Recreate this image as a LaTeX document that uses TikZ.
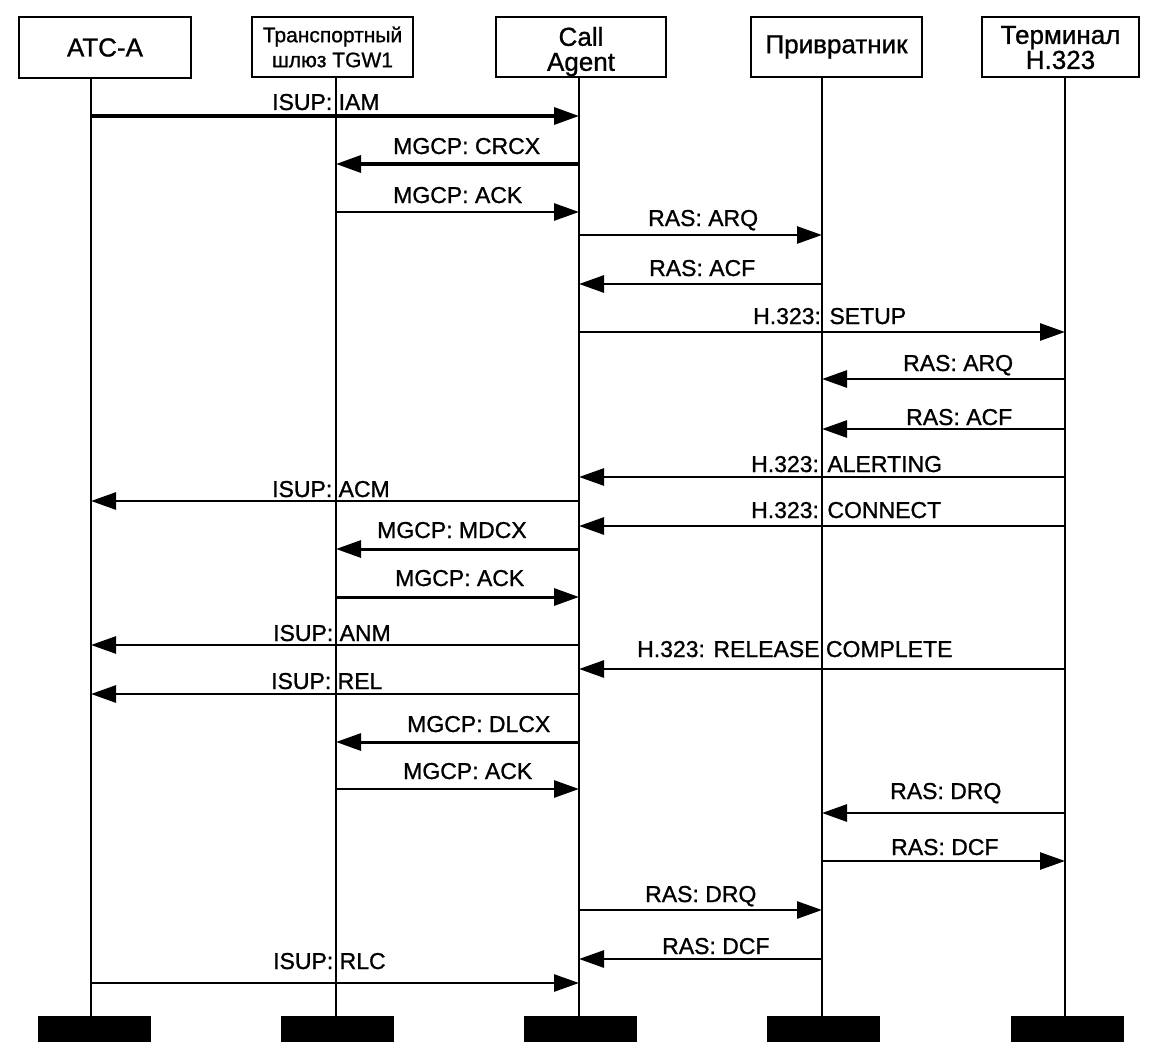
\documentclass[tikz,border=0pt]{standalone}
\usepackage{fontspec}
\setmainfont{Liberation Sans}
\newfontfamily\heavyfont{Liberation Sans}[FakeBold=1]
\usetikzlibrary{arrows.meta}
\begin{document}
\begin{tikzpicture}[x=1pt,y=-1pt,
  box/.style={draw, line width=1.9pt, inner sep=0pt, align=center,
              font=\heavyfont\fontsize{26}{25}\selectfont},
  smallbox/.style={box, font=\heavyfont\fontsize{21}{25}\selectfont},
  bar/.style={fill=black, inner sep=0pt, minimum width=113pt, minimum height=26pt},
  life/.style={line width=1.8pt},
  msg/.style={line width=2.8pt, -{Triangle[length=25pt,width=17pt]}},
  lbl/.style={anchor=base west, inner sep=0pt, font=\heavyfont\fontsize{23}{23}\selectfont}]
\useasboundingbox (0,0) rectangle (1163,1057);

% header boxes
\node[box, minimum width=172pt, minimum height=61pt] (A) at (105,47.5) {АТС-А};
\node[smallbox, minimum width=161pt, minimum height=60pt] (T) at (332.5,47) {Транспортный\\шлюз TGW1};
\node[box, minimum width=170pt, minimum height=60pt] (C) at (581,47) {\rule{0pt}{28pt}Call\\Agent};
\node[box, minimum width=171pt, minimum height=60pt] (G) at (836.5,47) {Привратник};
\node[box, minimum width=157pt, minimum height=60pt] (H) at (1060.5,47) {\rule{0pt}{19pt}Терминал\\H.323};

% bottom bars
\node[bar] (bA) at (94.5,1029) {};
\node[bar] (bT) at (337,1029) {};
\node[bar] (bC) at (580,1029) {};
\node[bar] (bG) at (823.5,1029) {};
\node[bar] (bH) at (1067.5,1029) {};

% lifeline x positions
\coordinate (xA) at (91,0);
\coordinate (xT) at (336,0);
\coordinate (xC) at (579,0);
\coordinate (xG) at (822,0);
\coordinate (xH) at (1065,0);

\foreach \n in {A,T,C,G,H}
  \draw[life] (\n.south -| x\n) -- (b\n.north -| x\n);

% messages: arrow y / from / to / label x / label baseline / text / line width
\foreach \y/\f/\t/\lx/\ly/\txt/\w [count=\i] in {
  116/A/C/272/110/{ISUP: IAM}/3.4,
  164/C/T/393/154/{MGCP: CRCX}/3.4,
  212/T/C/393/203/{MGCP: ACK}/2.8,
  235/C/G/648/226/{RAS: ARQ}/2.6,
  284/G/C/649/276/{RAS: ACF}/2.8,
  332/C/H/753/324/{H.323: SETUP}/2.8,
  379/H/G/903/371/{RAS: ARQ}/2.8,
  429/H/G/906/425/{RAS: ACF}/2.6,
  477/H/C/751/472/{H.323: ALERTING}/2.6,
  501/C/A/272/497/{ISUP: ACM}/2.8,
  526/H/C/751/518/{H.323: CONNECT}/2.8,
  549/C/T/377/538/{MGCP: MDCX}/3.0,
  597/T/C/395/586/{MGCP: ACK}/3.0,
  645/C/A/273/641/{ISUP: ANM}/2.6,
  669/H/C/637/657/{H.323: RELEASE COMPLETE}/2.8,
  694/C/A/271/689/{ISUP: REL}/2.8,
  742/C/T/407/732/{MGCP: DLCX}/3.0,
  789/T/C/403/779/{MGCP: ACK}/2.8,
  813/H/G/890/799/{RAS: DRQ}/2.8,
  861/G/H/891/855/{RAS: DCF}/2.6,
  910/C/G/645/902/{RAS: DRQ}/2.8,
  959/G/C/662/954/{RAS: DCF}/2.8,
  983/A/C/273/969/{ISUP: RLC}/2.6}
{
  \path (x\f) ++(0,\y) coordinate (s\i);
  \path (x\t) ++(0,\y) coordinate (e\i);
  \draw[msg, line width=\w pt] (s\i) -- (e\i);
  \node[lbl] (l\i) at (\lx,\ly) {\txt};
}
\end{tikzpicture}
\end{document}
